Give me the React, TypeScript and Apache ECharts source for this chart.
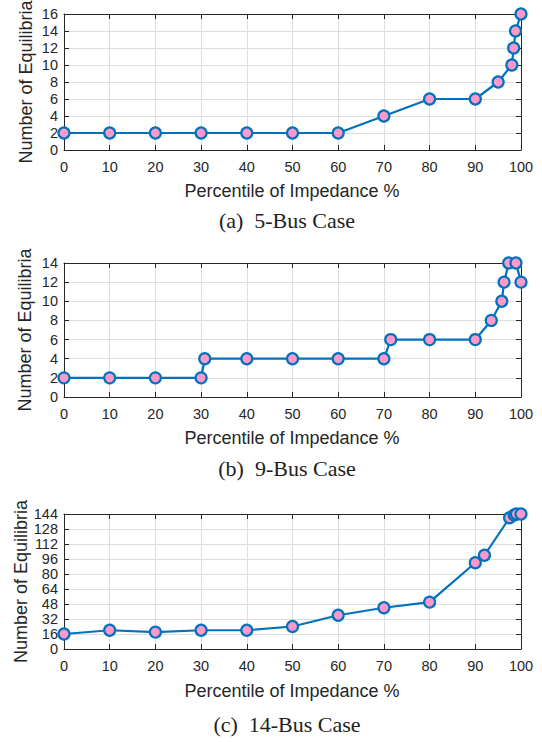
import React, { useEffect, useRef } from "react";
import * as echarts from "echarts";

// ---- Data ----
const xTickValues = [0, 10, 20, 30, 40, 50, 60, 70, 80, 90, 100];

const bus5X = [0, 10, 20, 30, 40, 50, 60, 70, 80, 90, 95, 98, 98.4, 98.8, 100];
const bus5Y = [2, 2, 2, 2, 2, 2, 2, 4, 6, 6, 8, 10, 12, 14, 16];

const bus9X = [0, 10, 20, 30, 30.8, 40, 50, 60, 70, 71.5, 80, 90, 93.5, 95.8, 96.3, 97.3, 98.9, 100];
const bus9Y = [2, 2, 2, 2, 4, 4, 4, 4, 4, 6, 6, 6, 8, 10, 12, 14, 14, 12];

const bus14X = [0, 10, 20, 30, 40, 50, 60, 70, 80, 90, 92, 97.5, 98.5, 99, 100];
const bus14Y = [16, 20, 18, 20, 20, 24, 36, 44, 50, 92, 100, 140, 143, 144, 144];

const yMaxes = [16, 14, 144];
const yIntervals = [2, 2, 16];
const captions = ["(a)  5-Bus Case", "(b)  9-Bus Case", "(c)  14-Bus Case"];
const xLabelText = "Percentile of Impedance %";
const yLabelText = "Number of Equilibria";

// ---- Layout / style ----
const SANS = "'Liberation Sans', Arial, Helvetica, sans-serif";
const SERIF = "'Liberation Serif', 'Times New Roman', serif";
const AX = "#262626";
const GRIDC = "#dedede";
const BLUE = "#0072BD";
const PINK = "#FF99CC";

const grids = [
  { left: 64, top: 14, width: 457, height: 136 },
  { left: 64, top: 263, width: 457, height: 134 },
  { left: 64, top: 514, width: 457, height: 135 },
];
const xLabelY = [190.5, 437.5, 690.5];
const captionY = [220.5, 468, 724.6];
const yLabelX = [25.5, 25, 21];

export default function App() {
  const ref = useRef<HTMLDivElement>(null);

  useEffect(() => {
    if (!ref.current) return;
    const chart = echarts.init(ref.current, undefined, { renderer: "svg" });

    const datasets = [
      bus5X.map((x, i) => [x, bus5Y[i]]),
      bus9X.map((x, i) => [x, bus9Y[i]]),
      bus14X.map((x, i) => [x, bus14Y[i]]),
    ];

    const xAxes: any[] = [];
    const yAxes: any[] = [];
    const series: any[] = [];
    const graphics: any[] = [];

    for (let g = 0; g < 3; g++) {
      const tickStyle = { show: true, inside: true, length: 5, lineStyle: { color: AX, width: 1 } };
      const lineStyle = { show: true, onZero: false, lineStyle: { color: AX, width: 1 } };
      xAxes.push({
        type: "value",
        gridIndex: g,
        min: xTickValues[0],
        max: xTickValues[xTickValues.length - 1],
        interval: 10,
        position: "bottom",
        axisLine: lineStyle,
        axisTick: tickStyle,
        axisLabel: { color: AX, fontSize: 14.5, fontFamily: SANS, margin: 9 },
        splitLine: { show: true, lineStyle: { color: GRIDC, width: 1 } },
      });
      xAxes.push({
        type: "value",
        gridIndex: g,
        min: xTickValues[0],
        max: xTickValues[xTickValues.length - 1],
        interval: 10,
        position: "top",
        axisLine: lineStyle,
        axisTick: tickStyle,
        axisLabel: { show: false },
        splitLine: { show: false },
      });
      yAxes.push({
        type: "value",
        gridIndex: g,
        min: 0,
        max: yMaxes[g],
        interval: yIntervals[g],
        position: "left",
        axisLine: lineStyle,
        axisTick: tickStyle,
        axisLabel: { color: AX, fontSize: 14.5, fontFamily: SANS, margin: 6 },
        splitLine: { show: true, lineStyle: { color: GRIDC, width: 1 } },
      });
      yAxes.push({
        type: "value",
        gridIndex: g,
        min: 0,
        max: yMaxes[g],
        interval: yIntervals[g],
        position: "right",
        axisLine: lineStyle,
        axisTick: tickStyle,
        axisLabel: { show: false },
        splitLine: { show: false },
      });
      series.push({
        type: "line",
        xAxisIndex: g * 2,
        yAxisIndex: g * 2,
        data: datasets[g],
        clip: false,
        z: 5,
        symbol: "circle",
        symbolSize: 11,
        lineStyle: { color: BLUE, width: 2.2 },
        itemStyle: { color: PINK, borderColor: BLUE, borderWidth: 2.2 },
        emphasis: { disabled: true },
      });

      const gr = grids[g];
      graphics.push({
        type: "text",
        x: 292,
        y: xLabelY[g],
        style: {
          text: xLabelText,
          fill: AX,
          font: `18px ${SANS}`,
          textAlign: "center",
          textVerticalAlign: "middle",
        },
      });
      graphics.push({
        type: "text",
        x: yLabelX[g],
        y: gr.top + gr.height / 2,
        rotation: Math.PI / 2,
        style: {
          text: yLabelText,
          fill: AX,
          font: `18px ${SANS}`,
          textAlign: "center",
          textVerticalAlign: "middle",
        },
      });
      graphics.push({
        type: "text",
        x: 287,
        y: captionY[g],
        style: {
          text: captions[g],
          fill: "#222",
          font: `22px ${SERIF}`,
          textAlign: "center",
          textVerticalAlign: "middle",
        },
      });
    }

    chart.setOption({
      animation: false,
      backgroundColor: "#ffffff",
      grid: grids,
      xAxis: xAxes,
      yAxis: yAxes,
      series,
      graphic: graphics,
    });

    return () => chart.dispose();
  }, []);

  return (
    <div
      ref={ref}
      style={{ position: "fixed", left: 0, top: 0, width: 542, height: 742 }}
    />
  );
}
